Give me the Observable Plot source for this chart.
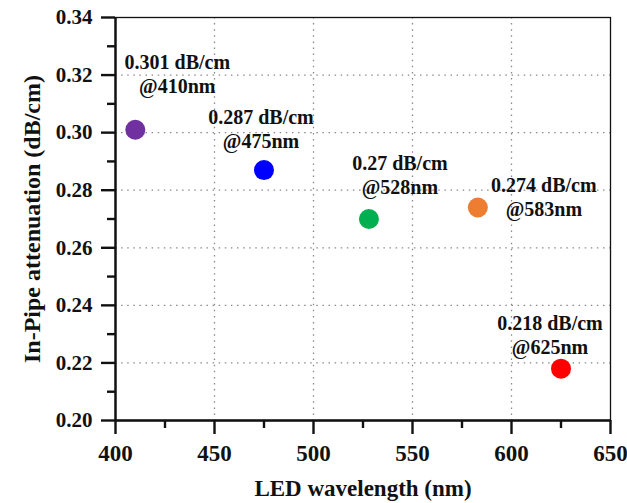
<!DOCTYPE html>
<html>
<head>
<meta charset="utf-8">
<script src="https://cdn.jsdelivr.net/npm/d3@7"></script>
<script src="https://cdn.jsdelivr.net/npm/@observablehq/plot@0.6"></script>
<style>
  body { margin: 0; background: #fff; }
  #chart svg { display: block; }
</style>
</head>
<body>
<div id="chart"></div>
<script>
// LED wavelength vs. measured in-pipe attenuation
const wavelengths = [410, 475, 528, 583, 625];
const attenuation = [0.301, 0.287, 0.27, 0.274, 0.218];
const ledColors = ["#7030A0", "#0000FF", "#00B050", "#ED7D31", "#FF0000"];

const xTicks = [400, 450, 500, 550, 600, 650];
const xMinorTicks = [425, 475, 525, 575, 625];
const yTicks = [0.20, 0.22, 0.24, 0.26, 0.28, 0.30, 0.32, 0.34];
const yMinorTicks = [0.21, 0.23, 0.25, 0.27, 0.29, 0.31, 0.33];

const xTitle = "LED wavelength (nm)";
const yTitle = "In-Pipe attenuation (dB/cm)";

// pixel offset of each annotation block from its dot
const labelShift = [[42, -56], [-3, -42], [31, -45], [66, -11], [-11, -34]];

const font = "'Liberation Serif', 'Times New Roman', serif";
const idx = wavelengths.map((_, i) => i);

const gridStyle = {stroke: "#8a8a8a", strokeOpacity: 1, strokeWidth: 1.3, strokeDasharray: "1.5,4.6"};

const labels = idx.map(i => Plot.text([i], {
  x: j => wavelengths[j],
  y: j => attenuation[j],
  text: j => `${attenuation[j]} dB/cm\n@${wavelengths[j]}nm`,
  dx: labelShift[i][0],
  dy: labelShift[i][1],
  fontSize: 20,
  fontWeight: "bold",
  lineHeight: 1.2,
  fill: "#111"
}));

const chart = Plot.plot({
  width: 627,
  height: 503,
  marginLeft: 115,
  marginRight: 17,
  marginTop: 17,
  marginBottom: 83,
  style: {fontFamily: font, background: "#fff", color: "#111"},
  x: {domain: [400, 650]},
  y: {domain: [0.20, 0.34]},
  marks: [
    Plot.gridX(xTicks.slice(1, -1), gridStyle),
    Plot.gridY(yTicks.slice(1, -1), gridStyle),
    Plot.frame({stroke: "#111", strokeWidth: 1.3}),
    Plot.ruleX([400], {stroke: "#111", strokeWidth: 2.4}),
    Plot.ruleY([0.20], {stroke: "#111", strokeWidth: 2.4}),
    Plot.axisX(xTicks, {tickSize: 14, tickPadding: 10, strokeWidth: 2.4, fontSize: 23, fontWeight: "bold", label: null}),
    Plot.axisX(xMinorTicks, {tickSize: 8, strokeWidth: 2.4, text: null, label: null}),
    Plot.axisY(yTicks, {tickSize: 14, tickPadding: 9, strokeWidth: 2.4, fontSize: 21, fontWeight: "bold", tickFormat: ".2f", label: null}),
    Plot.axisY(yMinorTicks, {tickSize: 8, strokeWidth: 2.4, text: null, label: null}),
    Plot.text([xTitle], {frameAnchor: "bottom", dy: 75, fontSize: 23, fontWeight: "bold", fill: "#111"}),
    Plot.text([yTitle], {frameAnchor: "left", dx: -83, rotate: -90, textAnchor: "middle", fontSize: 24, fontWeight: "bold", fill: "#111"}),
    Plot.dot(idx, {x: i => wavelengths[i], y: i => attenuation[i], r: 10, fill: i => ledColors[i], stroke: "none"}),
    ...labels
  ]
});

document.getElementById("chart").append(chart);
</script>
</body>
</html>
